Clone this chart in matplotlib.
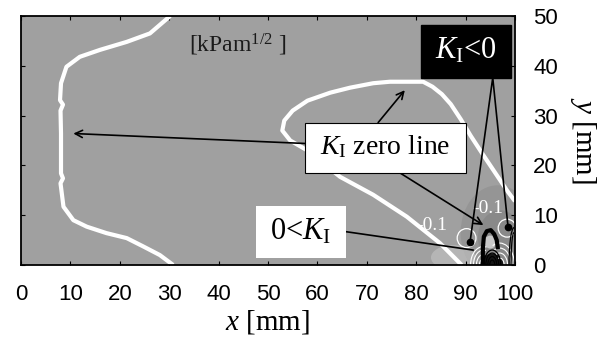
import matplotlib
matplotlib.use("Agg")
import matplotlib.pyplot as plt
from matplotlib.patches import Rectangle, Arc, Ellipse, Wedge

plt.rcParams['font.family'] = ['Liberation Sans', 'DejaVu Sans']
plt.rcParams['mathtext.fontset'] = 'custom'
plt.rcParams['mathtext.rm'] = 'Liberation Serif'
plt.rcParams['mathtext.it'] = 'Liberation Serif:italic'
plt.rcParams['mathtext.bf'] = 'Liberation Serif:bold'

# K_I = 0 contour, left branch (x, y in mm)
left_zero_x = [30.2, 26.1, 21.4, 16.0, 11.9, 9.2, 8.1, 7.9, 8.5, 8.0, 8.1, 8.1,
               8.5, 8.0, 8.6, 10.6, 13.3, 17.3, 21.4, 24.8, 28.1, 30.8]
left_zero_y = [50.0, 46.5, 44.8, 43.2, 41.8, 39.8, 36.5, 33.1, 32.2, 31.0, 26.4, 18.4,
               17.4, 16.4, 11.7, 9.0, 7.7, 6.4, 5.4, 3.7, 2.0, 0.0]

# K_I = 0 contour, loop branch
loop_x = [89.2, 84.8, 78.1, 71.3, 64.6, 57.8, 54.5, 52.9, 53.3, 55.0, 58.0, 62.6,
          66.6, 71.3, 74.7, 81.4, 83.3, 85.2, 87.0, 89.0, 91.0, 93.3, 96.0, 98.5, 100.0]
loop_y = [0.0, 4.4, 9.7, 14.1, 17.7, 23.1, 25.0, 27.0, 29.0, 31.0, 33.0, 34.6,
          35.6, 36.5, 36.8, 36.8, 35.8, 34.3, 32.3, 29.3, 26.0, 22.5, 18.5, 14.8, 12.8]

# thick black contour around crack tip
tip_x = [93.5, 93.5, 93.7, 94.3, 95.1, 95.8, 96.3, 96.5]
tip_y = [0.0, 3.4, 5.7, 6.8, 7.0, 6.2, 5.0, 3.6]

# crack-tip contour lobes: (centre x, half width, height)
white_left = [(93.6, 0.8, 1.2), (93.6, 1.4, 2.1), (93.6, 2.0, 3.0), (93.6, 2.6, 3.7)]
black_mid = [(95.4, 0.5, 1.0), (95.4, 0.9, 1.7), (95.4, 1.3, 2.4), (95.4, 1.7, 3.0)]
white_right = [(96.9, 0.9, 1.4), (96.9, 1.6, 2.4), (96.9, 2.3, 3.4), (96.9, 3.0, 4.4)]
black_right = [(99.8, 0.6, 6.5), (99.8, 1.0, 7.5)]

# -0.1 contours (centre x, centre y, radius)
neg_circles = [(90.2, 5.4, 1.9), (98.4, 7.4, 1.8)]
neg_labels = [(83.2, 8.0), (94.4, 11.4)]

dots_x = [90.9, 98.6]
dots_y = [4.6, 7.6]

fig = plt.figure(figsize=(6.05, 3.41), dpi=100)
ax = fig.add_axes([0.0347, 0.2229, 0.8165, 0.7302])
ax.set_facecolor('#a0a0a0')
ax.set_xlim(0, 100)
ax.set_ylim(0, 50)

# shading near the crack tip
ax.add_patch(Ellipse((96.5, 6.5), 15, 19, color='#7c7c7c', alpha=0.3, lw=0, zorder=0.5))
ax.add_patch(Ellipse((97.0, 5.5), 9, 11, color='#747474', alpha=0.35, lw=0, zorder=0.5))
ax.add_patch(Ellipse((87.5, 1.5), 9, 5, color='#c4c4c4', alpha=0.6, lw=0, zorder=0.5))
ax.add_patch(Ellipse((95.0, 4.6), 2.4, 2.6, color='#c8c8c8', lw=0, zorder=1))

ax.plot(left_zero_x, left_zero_y, color='white', lw=3, solid_capstyle='butt', zorder=2)
ax.plot(loop_x, loop_y, color='white', lw=3, solid_capstyle='butt', zorder=2)

# dense contours at the crack tip
ax.add_patch(Wedge((95.4, 0), 2.3, 0, 180, color='#151515', lw=0, zorder=1.5))
for cx, hw, h in white_left:
    ax.add_patch(Arc((cx, 0), 2 * hw, 2 * h, theta1=80, theta2=180, color='white', lw=0.8, zorder=2))
for cx, hw, h in white_right:
    ax.add_patch(Arc((cx, 0), 2 * hw, 2 * h, theta1=0, theta2=110, color='white', lw=0.8, zorder=2))
for cx, hw, h in black_mid:
    ax.add_patch(Arc((cx, 0), 2 * hw, 2 * h, theta1=0, theta2=180, color='black', lw=0.9, zorder=2.1))
for cx, hw, h in black_right:
    ax.add_patch(Arc((cx, 0), 2 * hw, 2 * h, theta1=90, theta2=180, color='black', lw=0.9, zorder=2.1))
ax.plot(tip_x, tip_y, color='black', lw=3, zorder=2.2)

for cx, cy, r in neg_circles:
    ax.add_patch(Ellipse((cx, cy), 2 * r, 2 * r, fill=False, ec='white', lw=0.9, zorder=1.8))
for lx, ly in neg_labels:
    ax.text(lx, ly, '-0.1', color='white', fontsize=14, family='Liberation Serif',
            ha='center', va='center', zorder=3)

# leader lines
arrow = dict(arrowstyle='->', lw=1.2, color='black', mutation_scale=13, shrinkA=0, shrinkB=0)
ax.annotate('', xy=(10.6, 26.4), xytext=(57.5, 24.4), arrowprops=arrow, zorder=3)
ax.annotate('', xy=(77.7, 35.1), xytext=(72.3, 28.6), arrowprops=arrow, zorder=3)
ax.annotate('', xy=(93.6, 8.0), xytext=(76.7, 18.5), arrowprops=arrow, zorder=3)
ax.plot([dots_x[0], 95.5, dots_x[1]], [dots_y[0], 37.6, dots_y[1]], color='black', lw=1.2, zorder=3)
ax.plot(dots_x, dots_y, 'o', color='black', ms=4.5, zorder=3)
ax.plot([65.7, 91.5], [6.7, 3.0], color='black', lw=1.2, zorder=3)

# label boxes
ax.add_patch(Rectangle((80.97, 37.6), 18.22, 10.6, fc='black', ec='black', zorder=4))
ax.add_patch(Rectangle((57.5, 18.5), 32.5, 10.1, fc='white', ec='black', lw=0.8, zorder=4))
ax.add_patch(Rectangle((47.6, 1.35), 18.1, 10.5, fc='white', ec='none', zorder=4))

ax.text(90.1, 43.0, r'$K_\mathrm{I}$<0', color='white', fontsize=22, family='Liberation Serif',
        ha='center', va='center', zorder=5)
ax.text(73.7, 23.7, r'$K_\mathrm{I}$ zero line', color='black', fontsize=20, family='Liberation Serif',
        ha='center', va='center', zorder=5)
ax.text(56.7, 6.6, r'0<$K_\mathrm{I}$', color='black', fontsize=22, family='Liberation Serif',
        ha='center', va='center', zorder=5)
ax.text(43.9, 44.2, r'[kPam$^{1/2}$ ]', color='#1a1a1a', fontsize=17, family='Liberation Serif',
        ha='center', va='center', zorder=5)

ax.set_xticks(range(0, 101, 10))
ax.set_yticks(range(0, 51, 10))
ax.tick_params(direction='in', length=3, width=0.8, top=True, right=True, labelsize=16)
ax.tick_params(axis='x', pad=14)
ax.tick_params(axis='y', left=True, labelleft=False, labelright=True, pad=13)
for s in ax.spines.values():
    s.set_linewidth(1.3)

ax.set_xlabel(r'$x$ [mm]', family='Liberation Serif', fontsize=21, labelpad=2)
ax.yaxis.set_label_position('right')
ax.set_ylabel(r'$y$ [mm]', family='Liberation Serif', fontsize=21, rotation=270, labelpad=29)

fig.savefig('out.png', dpi=100)
